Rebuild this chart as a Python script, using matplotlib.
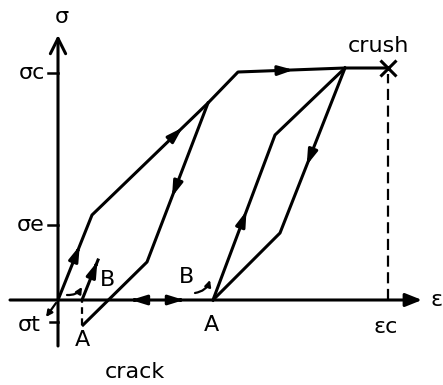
import matplotlib.pyplot as plt

# -----------------------------
# Diagram data (strain, stress) in drawing units, origin at axis crossing
# -----------------------------
load_eps = [0, 34, 150, 180, 287, 330]
load_sig = [0, 85, 197, 228, 232, 232]

unload1_eps = [150, 89, 25]
unload1_sig = [197, 38, -25]

reload1_eps = [24, 40]
reload1_sig = [0, 40]

loop2_up_eps = [155, 217, 287]
loop2_up_sig = [0, 165, 232]

loop2_down_eps = [287, 222, 155]
loop2_down_sig = [232, 67, 0]

sig_c, sig_e, sig_t = 227, 75, -22
eps_c = 330

LW = 2.2
FS = 16
HEAD = "-|>,head_length=0.45,head_width=0.14"


def mid_arrow(ax, x0, y0, x1, y1, frac=0.5, size=20):
    # small arrowhead placed on a segment, pointing from (x0,y0) to (x1,y1)
    xm = x0 + (x1 - x0) * frac
    ym = y0 + (y1 - y0) * frac
    dx = (x1 - x0) * 0.04
    dy = (y1 - y0) * 0.04
    ax.annotate("", xy=(xm + dx, ym + dy), xytext=(xm - dx, ym - dy),
                arrowprops=dict(arrowstyle=HEAD, color="black", lw=LW,
                                mutation_scale=size, shrinkA=0, shrinkB=0))


fig = plt.figure(figsize=(4.43, 3.85), dpi=100)
ax = fig.add_axes([0, 0, 1, 1])
ax.set_xlim(-58, 385)
ax.set_ylim(-85, 300)
ax.axis("off")

# axes with arrows
ax.annotate("", xy=(364, 0), xytext=(-48, 0),
            arrowprops=dict(arrowstyle="-|>,head_length=0.45,head_width=0.18",
                            color="black", lw=LW,
                            mutation_scale=22, shrinkA=0, shrinkB=0))
ax.annotate("", xy=(0, 265), xytext=(0, -46),
            arrowprops=dict(arrowstyle="->,head_length=0.5,head_width=0.25",
                            color="black", lw=LW,
                            mutation_scale=22, shrinkA=0, shrinkB=0))

# ticks
ax.plot([-10, 0], [sig_c, sig_c], color="black", lw=1.8)
ax.plot([-10, 0], [sig_e, sig_e], color="black", lw=1.8)
ax.plot([-8, 0], [sig_t, sig_t], color="black", lw=1.8)

# paths
ax.plot(load_eps, load_sig, color="black", lw=LW)
ax.plot(unload1_eps, unload1_sig, color="black", lw=LW)
ax.plot(reload1_eps, reload1_sig, color="black", lw=LW)
ax.plot(loop2_up_eps, loop2_up_sig, color="black", lw=LW)
ax.plot(loop2_down_eps, loop2_down_sig, color="black", lw=LW)

# small tension branch
ax.annotate("", xy=(-12, -17), xytext=(-2, -3),
            arrowprops=dict(arrowstyle="-|>", color="black", lw=1.6,
                            mutation_scale=9, shrinkA=0, shrinkB=0))

# dashed guides
ax.plot([24, 24], [-25, 0], color="black", lw=1.6, ls=(0, (3, 2)))
ax.plot([eps_c, eps_c], [0, 226], color="black", lw=1.6, ls=(0, (5, 2.5)))
ax.plot([eps_c], [232], marker="x", color="black", ms=11, mew=2.2)

# direction arrows
mid_arrow(ax, load_eps[0], load_sig[0], load_eps[1], load_sig[1], 0.6)
mid_arrow(ax, load_eps[1], load_sig[1], load_eps[2], load_sig[2], 0.74)
mid_arrow(ax, load_eps[3], load_sig[3], load_eps[4], load_sig[4], 0.48)
mid_arrow(ax, unload1_eps[0], unload1_sig[0], unload1_eps[1], unload1_sig[1], 0.55)
mid_arrow(ax, reload1_eps[0], reload1_sig[0], reload1_eps[1], reload1_sig[1], 0.92)
mid_arrow(ax, loop2_up_eps[0], loop2_up_sig[0], loop2_up_eps[1], loop2_up_sig[1], 0.5)
mid_arrow(ax, loop2_down_eps[0], loop2_down_sig[0], loop2_down_eps[1], loop2_down_sig[1], 0.55)
mid_arrow(ax, 100, 0, 50, 0, 0.5)
mid_arrow(ax, 100, 0, 148, 0, 0.5)

# small curved arrows at B
for (x0, y0, x1, y1) in [(9, 5, 24, 13), (137, 7, 152, 20)]:
    ax.annotate("", xy=(x1, y1), xytext=(x0, y0),
                arrowprops=dict(arrowstyle="-|>", color="black", lw=1.6,
                                mutation_scale=9, shrinkA=0, shrinkB=0,
                                connectionstyle="arc3,rad=0.3"))

# labels
ax.text(4, 283, "σ", fontsize=FS, ha="center", va="center")
ax.text(-13, sig_c, "σc", fontsize=FS, ha="right", va="center")
ax.text(-13, sig_e, "σe", fontsize=FS, ha="right", va="center")
ax.text(-17, -25, "σt", fontsize=FS, ha="right", va="center")
ax.text(379, 0, "ε", fontsize=FS, ha="center", va="center")
ax.text(eps_c - 2, -27, "εc", fontsize=FS, ha="center", va="center")
ax.text(320, 254, "crush", fontsize=FS, ha="center", va="center")
ax.text(77, -72, "crack", fontsize=FS, ha="center", va="center")
ax.text(24, -40, "A", fontsize=FS, ha="center", va="center")
ax.text(153, -25, "A", fontsize=FS, ha="center", va="center")
ax.text(50, 20, "B", fontsize=FS, ha="center", va="center")
ax.text(129, 23, "B", fontsize=FS, ha="center", va="center")

fig.savefig("out.png", dpi=100)
